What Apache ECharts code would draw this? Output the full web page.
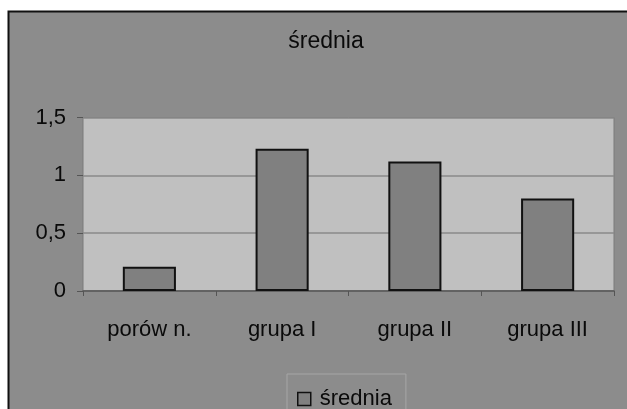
<!DOCTYPE html>
<html>
<head>
<meta charset="utf-8">
<script src="https://cdn.jsdelivr.net/npm/echarts@6/dist/echarts.min.js"></script>
<style>html,body{margin:0;padding:0;background:#fff;}#c{width:627px;height:409px;}</style>
</head>
<body>
<div id="c"></div>
<script>
var titleText = 'średnia';
var categories = ['porów n.', 'grupa I', 'grupa II', 'grupa III'];
var seriesName = 'średnia';
var values = [0.21, 1.23, 1.12, 0.80];
var yTicks = [0, 0.5, 1, 1.5];

var FONT = '"Liberation Sans", Arial, sans-serif';
var chart = echarts.init(document.getElementById('c'), null, {renderer: 'canvas'});
chart.setOption({
  backgroundColor: '#ffffff',
  animation: false,
  graphic: [{
    type: 'rect', z: -10, silent: true,
    shape: {x: 8.5, y: 11.5, width: 700, height: 500},
    style: {fill: '#8c8c8c', stroke: '#111', lineWidth: 2}
  }],
  title: {
    text: titleText, left: 321, top: 25, textAlign: 'center',
    textStyle: {fontFamily: FONT, fontSize: 23, fontWeight: 'normal', color: '#0a0a0a'}
  },
  legend: {
    data: [seriesName], left: 287, top: 374,
    orient: 'horizontal',
    padding: [14, 14, 20, 10],
    itemWidth: 13, itemHeight: 13, itemGap: 5,
    icon: 'rect',
    borderColor: '#a6a6a6', borderWidth: 1,
    backgroundColor: '#8c8c8c',
    textStyle: {fontFamily: FONT, fontSize: 22, color: '#0a0a0a', padding: [0, 0, 0, 4]},
    itemStyle: {color: '#808080', borderColor: '#111', borderWidth: 1.5}
  },
  grid: {
    left: 83, right: 13, top: 117.5, bottom: 118,
    show: true, backgroundColor: '#c0c0c0', borderColor: '#7a7a7a', borderWidth: 1,
    containLabel: false
  },
  xAxis: {
    type: 'category', data: categories,
    axisLine: {show: true, lineStyle: {color: '#555', width: 1.5}},
    axisTick: {show: true, inside: false, length: 5, lineStyle: {color: '#555'}},
    axisLabel: {fontFamily: FONT, fontSize: 22, color: '#0a0a0a', margin: 28},
    splitLine: {show: false}
  },
  yAxis: {
    type: 'value', min: 0, max: 1.5, interval: 0.5,
    axisLine: {show: false},
    axisTick: {show: true, length: 6, lineStyle: {color: '#555'}},
    axisLabel: {
      fontFamily: FONT, fontSize: 22, color: '#0a0a0a', margin: 17,
      formatter: function (v) { return String(v).replace('.', ','); }
    },
    splitLine: {show: true, lineStyle: {color: '#8a8a8a', width: 1.5}}
  },
  series: [{
    name: seriesName, type: 'bar', data: values, barWidth: '40%',
    itemStyle: {color: '#808080', borderColor: '#111', borderWidth: 2}
  }]
});
</script>
</body>
</html>
